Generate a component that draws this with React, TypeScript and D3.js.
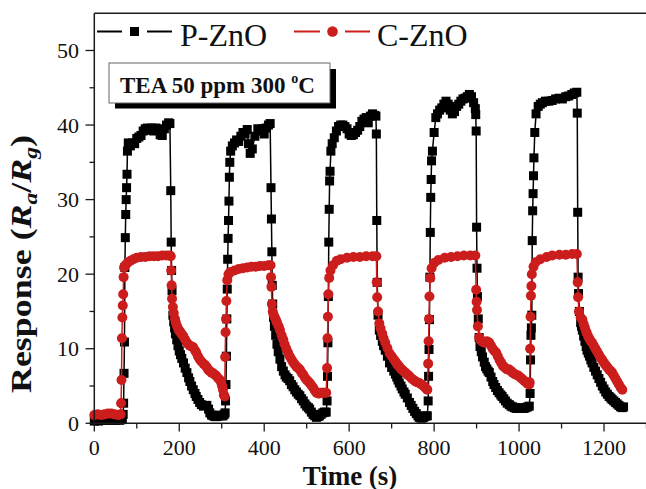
import React from 'react';
import * as d3 from 'd3';

// P-ZnO response, [time (s), Ra/Rg]
const pZnO: [number, number][] = [
  [0, 0.3], [10, 0.3], [20, 0.4], [30, 0.4], [40, 0.4], [50, 0.4], [60, 0.4], [66, 0.5],
  [68, 1.2], [69, 2.7], [70, 6.7], [71, 10.9], [72, 20.9], [73, 24.9], [74, 28], [75, 30], [76, 31.6], [77, 33.4], [78, 36.5], [80, 37.6],
  [85, 37.2], [90, 37.6], [95, 37.5], [100, 38.2], [105, 38.4], [110, 38.6], [115, 39.2], [120, 39.5], [125, 39.6], [130, 39.3],
  [135, 39.6], [140, 39.2], [145, 39.6], [150, 39.3], [155, 38.7], [160, 38.6], [165, 39.5], [170, 40], [175, 40.3], [178, 40.2],
  [180, 31.2], [181, 24.3], [182, 20.5], [183, 17.8],
  [185, 14.5], [187, 13.6], [189, 12.8], [191, 12], [194, 11.2], [197, 10.4], [200, 9.7], [203, 9.2], [206, 8.7], [210, 8.1],
  [214, 7.4], [218, 6.8], [222, 6.1], [225, 5.6], [229, 5], [233, 4.5], [237, 4], [240, 3.6], [244, 3.2], [248, 2.8], [252, 2.5],
  [257, 2.3], [261, 2.4], [265, 2.4], [269, 1.9], [272, 1.4], [276, 1.1], [280, 1.0], [284, 0.9], [288, 0.9], [292, 1.0], [295, 1.1],
  [299, 1.0], [303, 1.0], [306, 1.2], [308, 1.4],
  [309, 3], [310, 5.2], [311, 9], [312, 14], [313, 18], [314, 22], [315, 24.8], [316, 27.2], [317, 29.8], [318, 33], [319, 35], [321, 36.5],
  [325, 37.2], [330, 37.6], [335, 38], [340, 37.8], [345, 38.5], [350, 39], [355, 38.8], [360, 39.4], [363, 37.5], [367, 36.2],
  [372, 36.8], [378, 38.5], [385, 39.5], [390, 39.2], [395, 39.5], [400, 38.8], [405, 39.6], [410, 40], [414, 40.2],
  [416, 31.6], [417, 27.4], [418, 23], [419, 18.5],
  [420, 16], [422, 14.2], [424, 13], [427, 11.8], [430, 10.6], [433, 9.6], [437, 8.6], [441, 7.6], [445, 7], [449, 6.5], [452, 6.2],
  [456, 6], [460, 5.7], [464, 5.2], [468, 4.9], [472, 4.5], [476, 4.2], [480, 3.9], [484, 3.7], [488, 3.3], [492, 3], [496, 2.6],
  [500, 2.3], [504, 2.1], [507, 1.9], [511, 1.5], [515, 1.2], [519, 1], [523, 0.8], [527, 0.9], [530, 1], [534, 1.2], [538, 1.4],
  [542, 1.5], [546, 1.5],
  [548, 3], [549, 6.3], [550, 10.8], [551, 17], [552, 24.3], [553, 28.7], [554, 32.5], [555, 33.8], [557, 36.5],
  [560, 37.5], [565, 38.3], [570, 39.2], [575, 39.8], [580, 40], [585, 40], [590, 39.8], [595, 39.5], [600, 38.8], [605, 38.6],
  [610, 38.7], [615, 39], [620, 39.3], [625, 39.8], [630, 40.5], [635, 40.8], [640, 41], [645, 40.3], [650, 41.2], [655, 41.5], [660, 41.3], [663, 41.2],
  [664, 38.8], [665, 27.2], [666, 18.9],
  [668, 14.5], [671, 12.5], [674, 11.8], [678, 11], [681, 10.4], [685, 9.8], [690, 9], [695, 8.1], [700, 7.5], [705, 7], [709, 6.6],
  [712, 6.2], [715, 5.8], [718, 5.4], [722, 5], [725, 4.6], [729, 4.2], [732, 3.9], [737, 3.4], [742, 2.8], [746, 2.4], [750, 2.0],
  [754, 1.6], [758, 1.3], [762, 1], [765, 0.8], [769, 0.7], [772, 0.7], [775, 0.8], [778, 0.9], [781, 1], [784, 1.0],
  [786, 3], [787, 6.3], [788, 9.9], [789, 13.9], [790, 19.6], [791, 25.6], [792, 30.3], [793, 32.7], [794, 35.2], [796, 36.5], [800, 39], [804, 41],
  [808, 41.5], [813, 42], [818, 42.3], [823, 42.8], [828, 43.2], [833, 42.8], [838, 42], [843, 41.5], [848, 41.8], [853, 42.5],
  [858, 42.8], [863, 43.2], [868, 43.5], [873, 43.6], [878, 43.8], [883, 44.1], [888, 43.8], [893, 43], [897, 42.2],
  [898, 41.4], [899, 39.2], [900, 26.3], [901, 20.8], [902, 17],
  [904, 14], [906, 11.5], [908, 10.3], [911, 9.6], [914, 8.9], [918, 8.2], [921, 7.6], [924, 7.3], [927, 7], [930, 6.8], [934, 6.2],
  [938, 5.6], [941, 5.2], [945, 4.8], [949, 4.4], [953, 4.1], [957, 3.8], [960, 3.6], [964, 3.3], [968, 3], [972, 2.7], [977, 2.5],
  [981, 2.3], [985, 2.2], [989, 2.1], [993, 2], [997, 2], [1000, 2.1], [1004, 2], [1008, 2], [1012, 2], [1016, 2.1], [1020, 2.2], [1024, 2.3],
  [1026, 4], [1027, 8.5], [1028, 11.8], [1029, 12.8], [1030, 14.5], [1031, 24.5], [1032, 28.5], [1033, 30.8], [1034, 33.2], [1035, 35.6], [1037, 39], [1040, 41.5],
  [1045, 42.5], [1050, 42.8], [1055, 43], [1062, 43.2], [1070, 43.2], [1078, 43.3], [1086, 43.5], [1094, 43.6], [1102, 43.5],
  [1110, 43.8], [1117, 43.9], [1124, 44.1], [1130, 44.3], [1136, 44.4],
  [1137, 41.6], [1138, 28.3], [1139, 19.6], [1140, 17.4],
  [1142, 15], [1145, 13.5], [1147, 13], [1149, 12.5], [1152, 11.7], [1155, 11], [1158, 10.3], [1160, 9.8], [1163, 9.4], [1166, 9],
  [1169, 8.5], [1172, 8.1], [1176, 7.5], [1180, 7], [1184, 6.5], [1188, 6], [1192, 5.5], [1196, 5], [1200, 4.6], [1204, 4.2],
  [1208, 3.9], [1212, 3.6], [1216, 3.4], [1219, 3.2], [1223, 3], [1227, 2.8], [1231, 2.6], [1235, 2.4], [1239, 2.2], [1243, 2.1], [1246, 2.2],
];

// C-ZnO response, [time (s), Ra/Rg]
const cZnO: [number, number][] = [
  [0, 1.1], [8, 1.2], [16, 1.1], [24, 1.2], [32, 1.3], [40, 1.3], [48, 1.2], [56, 1.1], [62, 1.2],
  [63, 2.7], [64, 5.8], [65, 11.4], [66, 14.2], [67, 15.8], [68, 17.3], [69, 19.6], [70, 20.9], [73, 21.2], [78, 21.5], [85, 21.8],
  [92, 22], [100, 22.2], [110, 22.3], [120, 22.3], [130, 22.4], [140, 22.4], [150, 22.4], [160, 22.5], [170, 22.5], [178, 22.5], [180, 22.4],
  [181, 20.5], [182, 18.5], [183, 16.7],
  [185, 15.6], [187, 14.8], [190, 14], [192, 13.5], [195, 13], [198, 12.6], [200, 12.4], [203, 12.2], [205, 12], [208, 11.8], [210, 11.6],
  [214, 11.2], [218, 10.8], [221, 10.6], [225, 10.4], [229, 10.3], [233, 10.2], [237, 9.8], [240, 9.5], [244, 9], [248, 8.6], [252, 8.3],
  [257, 8], [261, 7.8], [265, 7.5], [268, 7.2], [272, 7], [276, 6.8], [280, 6.7], [284, 6.5], [288, 6.3], [292, 6], [296, 5.8],
  [299, 5.4], [301, 5], [303, 4.5], [305, 3.8], [307, 3.6],
  [308, 8.9], [309, 12.2], [310, 14], [311, 16.4], [313, 19.2], [316, 20], [320, 20.3], [330, 20.5], [340, 20.7], [350, 20.8], [360, 20.9],
  [370, 21], [380, 21], [390, 21.1], [400, 21.1], [410, 21.2], [415, 21.2],
  [416, 19.6], [417, 18.3], [418, 16],
  [420, 15], [422, 14.6], [425, 14.2], [428, 13.8], [430, 13.5], [434, 13], [437, 12.5], [441, 11.8], [445, 11.2], [448, 10.6], [452, 10],
  [456, 9.5], [460, 9], [464, 8.6], [468, 8.2], [472, 7.9], [476, 7.6], [480, 7.4], [484, 7.2], [488, 6.8], [492, 6.5], [496, 6.1],
  [500, 5.8], [504, 5.6], [507, 5.4], [511, 5.1], [515, 4.8], [519, 4.4], [523, 4.1], [527, 4], [530, 4], [534, 4.1], [538, 4.1],
  [542, 4.1], [546, 4.1],
  [548, 7.4], [549, 11.4], [550, 14.3], [551, 17.3], [553, 19.5], [556, 20.5], [562, 21.2], [571, 21.8], [580, 22], [595, 22.2],
  [610, 22.3], [625, 22.3], [640, 22.4], [655, 22.4], [664, 22.4],
  [665, 18.9], [666, 16.9],
  [668, 15], [671, 13.4], [674, 12.7], [678, 12], [681, 11.4], [685, 10.8], [690, 10.1], [695, 9.4], [700, 9], [705, 8.6], [709, 8.3],
  [712, 8], [715, 7.8], [718, 7.6], [722, 7.3], [726, 7.1], [730, 6.9], [734, 6.7], [738, 6.5], [742, 6.3], [747, 6], [752, 5.8],
  [756, 5.6], [760, 5.5], [765, 5.4], [770, 5.2], [775, 5], [779, 4.8], [782, 4.6], [784, 4.5],
  [786, 8], [787, 11], [788, 14], [789, 17], [791, 19.5], [794, 20.8], [800, 21.5], [810, 21.9], [825, 22.2], [840, 22.3], [855, 22.4],
  [870, 22.5], [885, 22.5], [897, 22.5],
  [899, 17.9], [900, 16.3], [901, 15.2],
  [903, 13], [906, 11.5], [909, 11.2], [912, 11], [915, 10.9], [918, 10.8], [921, 10.9], [924, 11], [927, 10.9], [930, 10.8], [934, 10.4],
  [938, 10], [942, 9.7], [946, 9.5], [950, 9], [954, 8.5], [958, 8.1], [962, 7.7], [966, 7.5], [970, 7.3], [974, 7.2], [977, 7.2],
  [981, 7], [985, 6.8], [989, 6.6], [993, 6.5], [997, 6.4], [1000, 6.3], [1004, 6.1], [1008, 5.9], [1012, 5.7], [1016, 5.5], [1020, 5.3], [1024, 5.2],
  [1025, 5.5], [1026, 10], [1027, 14.3], [1028, 17.1], [1029, 18.4], [1030, 20], [1034, 21], [1039, 21.6], [1050, 22], [1065, 22.3],
  [1078, 22.5], [1095, 22.6], [1110, 22.6], [1125, 22.7], [1136, 22.7],
  [1138, 18.9], [1139, 16.9],
  [1141, 15], [1145, 14.2], [1149, 13.9], [1152, 13.3], [1155, 12.8], [1158, 12.3], [1160, 12], [1163, 11.6], [1166, 11.3], [1169, 11],
  [1172, 10.8], [1176, 10.4], [1180, 10], [1184, 9.6], [1188, 9.2], [1192, 8.8], [1196, 8.5], [1200, 8.1], [1204, 7.8], [1208, 7.5],
  [1212, 7.2], [1216, 7], [1219, 6.8], [1223, 6.4], [1227, 6], [1231, 5.6], [1235, 5.2], [1239, 4.8], [1243, 4.5],
];

const xMajor = [0, 200, 400, 600, 800, 1000, 1200];
const xMinor = [100, 300, 500, 700, 900, 1100, 1300];
const yMajor = [0, 10, 20, 30, 40, 50];
const yMinor = [5, 15, 25, 35, 45];

const W = 646;
const H = 489;
const RED = '#cc1d1d';
const FONT = '"Liberation Serif", "Times New Roman", serif';

export default function App() {
  const x = d3.scaleLinear().domain([0, 1300]).range([94.3, 646.5]);
  const y = d3.scaleLinear().domain([0, 55]).range([423.3, 13.2]);

  const line = d3.line<[number, number]>()
    .x(d => x(d[0]))
    .y(d => y(d[1]));

  const axisColor = '#1a1a1a';

  return (
    <div style={{ position: 'fixed', left: 0, top: 0 }}>
      <svg width={W} height={H} style={{ display: 'block', background: '#fff' }} fontFamily={FONT}>
        {/* series */}
        <path d={line(pZnO) || ''} fill="none" stroke="#000" strokeWidth={1.5} />
        {pZnO.map((d, i) => (
          <rect key={'p' + i} x={x(d[0]) - 4.5} y={y(d[1]) - 4.5} width={9} height={9} fill="#000" />
        ))}
        <path d={line(cZnO) || ''} fill="none" stroke={RED} strokeWidth={1.5} />
        {cZnO.map((d, i) => (
          <circle key={'c' + i} cx={x(d[0])} cy={y(d[1])} r={5} fill={RED} />
        ))}

        {/* frame */}
        <line x1={94.3} x2={646} y1={13.2} y2={13.2} stroke={axisColor} strokeWidth={1.5} />
        <line x1={94.3} x2={94.3} y1={13.2} y2={423.3} stroke={axisColor} strokeWidth={1.5} />
        <line x1={94.3} x2={646} y1={423.3} y2={423.3} stroke={axisColor} strokeWidth={1.5} />

        {/* x ticks */}
        {xMajor.map(t => (
          <g key={'xt' + t}>
            <line x1={x(t)} x2={x(t)} y1={423.3} y2={431.5} stroke={axisColor} strokeWidth={1.3} />
            <text x={x(t)} y={454.5} textAnchor="middle" fontSize={22} fill="#111">{t}</text>
          </g>
        ))}
        {xMinor.map(t => (
          <line key={'xm' + t} x1={x(t)} x2={x(t)} y1={423.3} y2={428.5} stroke={axisColor} strokeWidth={1.3} />
        ))}

        {/* y ticks */}
        {yMajor.map(v => (
          <g key={'yt' + v}>
            <line x1={85.5} x2={94.3} y1={y(v)} y2={y(v)} stroke={axisColor} strokeWidth={1.3} />
            <text x={79} y={y(v)} dy="0.35em" textAnchor="end" fontSize={22} fill="#111">{v}</text>
          </g>
        ))}
        {yMinor.map(v => (
          <line key={'ym' + v} x1={89.5} x2={94.3} y1={y(v)} y2={y(v)} stroke={axisColor} strokeWidth={1.3} />
        ))}

        {/* axis titles */}
        <text x={350} y={484.5} textAnchor="middle" fontSize={27} fontWeight="bold" fill="#111">Time (s)</text>
        <text transform="translate(31,264) rotate(-90)" textAnchor="middle" fontSize={29} fontWeight="bold" fill="#111"
          textLength={258} lengthAdjust="spacingAndGlyphs">
          Response (<tspan fontStyle="italic">R</tspan><tspan fontStyle="italic" fontSize={19} dy={6}>a</tspan><tspan dy={-6}>/</tspan><tspan fontStyle="italic">R</tspan><tspan fontStyle="italic" fontSize={19} dy={6}>g</tspan><tspan dy={-6}>)</tspan>
        </text>

        {/* legend */}
        <line x1={97} x2={122} y1={31.5} y2={31.5} stroke="#000" strokeWidth={2} />
        <rect x={130} y={27} width={9} height={9} fill="#000" />
        <line x1={147} x2={172} y1={31.5} y2={31.5} stroke="#000" strokeWidth={2} />
        <text x={180} y={46} fontSize={32} fill="#111">P-ZnO</text>
        <line x1={294} x2={320} y1={31.5} y2={31.5} stroke={RED} strokeWidth={2} />
        <circle cx={332.5} cy={31.5} r={5.3} fill={RED} />
        <line x1={345} x2={370} y1={31.5} y2={31.5} stroke={RED} strokeWidth={2} />
        <text x={377} y={46} fontSize={32} fill="#111">C-ZnO</text>

        {/* annotation */}
        <rect x={115} y={69} width={221} height={39.5} fill="#000" />
        <rect x={109} y={63} width={221} height={40} fill="#fff" stroke="#666" strokeWidth={1} />
        <text x={120} y={93} fontSize={23} fontWeight="bold" fill="#111">
          TEA 50 ppm 300 <tspan fontSize={14} dy={-10}>o</tspan><tspan dy={10}>C</tspan>
        </text>
      </svg>
    </div>
  );
}
